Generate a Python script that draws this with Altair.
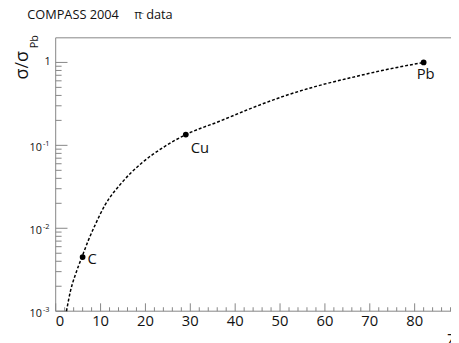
import math
import altair as alt
import pandas as pd

# --- data ---
elements = ["C", "Cu", "Pb"]
elem_z = [6, 29, 82]
elem_ratio = [0.0045, 0.135, 1.0]

curve_z = [2.4, 3.3, 4.4, 5.85, 7.3, 8.8, 11.0, 14.6, 19.0, 24.1, 28.9,
           36.5, 43.8, 51.1, 58.4, 65.7, 73.0, 82.0]
curve_ratio = [0.001, 0.00176, 0.00277, 0.0045, 0.0072, 0.011, 0.0191, 0.0348,
               0.0601, 0.0955, 0.134, 0.195, 0.283, 0.396, 0.521, 0.653, 0.805, 1.0]

x_major = [0, 10, 20, 30, 40, 50, 60, 70, 80]
x_minor = [v for v in range(0, 89, 2) if v % 10 != 0]
y_major = [0.001, 0.01, 0.1, 1.0]
y_major_base = ["10", "10", "10", "1"]
y_major_exp = ["-3", "-2", "-1", ""]
y_minor = [m * d for d in [0.001, 0.01, 0.1] for m in range(2, 10)]

X_DOMAIN = [0, 88.1]
Y_DOMAIN = [0.001, 1.98]
W, H = 402, 278
GRAY = "#858585"
FONT = "Open Sans"

# pixel -> data conversions for the inward tick lengths (styling only)
PX_PER_DECADE = H / math.log10(Y_DOMAIN[1] / Y_DOMAIN[0])
PX_PER_UNIT = W / (X_DOMAIN[1] - X_DOMAIN[0])


def up(px):
    return Y_DOMAIN[0] * 10 ** (px / PX_PER_DECADE)


def right(px):
    return X_DOMAIN[0] + px / PX_PER_UNIT


xscale = alt.Scale(domain=X_DOMAIN, nice=False, zero=False)
yscale = alt.Scale(type="log", domain=Y_DOMAIN, nice=False)
xaxis = alt.Axis(values=x_major, ticks=False, tickSize=0, grid=False, title=None,
                 domainColor=GRAY, labelFontSize=15, labelFont=FONT,
                 labelColor="#111", labelPadding=3, format="d", translate=0)
yaxis = alt.Axis(labels=False, ticks=False, tickSize=0, grid=False, title=None,
                 domainColor=GRAY, translate=0)


def X(f):
    return alt.X(f, type="quantitative", scale=xscale, axis=xaxis)


def Y(f):
    return alt.Y(f, type="quantitative", scale=yscale, axis=yaxis)


curve_df = pd.DataFrame({"z": curve_z, "r": curve_ratio})
pts_df = pd.DataFrame({"z": elem_z, "r": elem_ratio, "name": elements})
ymaj_df = pd.DataFrame({"r": y_major, "exp": y_major_exp, "base": y_major_base})

# tick segments (two end points per tick), drawn as lines through the scales
rows = []
for i, z in enumerate(x_major):
    rows += [{"id": f"xM{i}", "z": z, "r": Y_DOMAIN[0]},
             {"id": f"xM{i}", "z": z, "r": up(8)}]
for i, z in enumerate(x_minor):
    rows += [{"id": f"xm{i}", "z": z, "r": Y_DOMAIN[0]},
             {"id": f"xm{i}", "z": z, "r": up(4)}]
for i, r in enumerate(y_major):
    rows += [{"id": f"yM{i}", "z": X_DOMAIN[0], "r": r},
             {"id": f"yM{i}", "z": right(12), "r": r}]
for i, r in enumerate(y_minor):
    rows += [{"id": f"ym{i}", "z": X_DOMAIN[0], "r": r},
             {"id": f"ym{i}", "z": right(6), "r": r}]
rows += [{"id": "top", "z": X_DOMAIN[0], "r": Y_DOMAIN[1]},
         {"id": "top", "z": X_DOMAIN[1], "r": Y_DOMAIN[1]}]
ticks_df = pd.DataFrame(rows)

ticks = alt.Chart(ticks_df).mark_line(color=GRAY, strokeWidth=1).encode(
    x=X("z"), y=Y("r"), detail="id:N")

curve = alt.Chart(curve_df).mark_line(
    color="black", strokeWidth=1.5, strokeDash=[3, 2], interpolate="monotone"
).encode(x=X("z"), y=Y("r"))

dots = alt.Chart(pts_df).mark_circle(color="black", opacity=1, size=34).encode(
    x=X("z"), y=Y("r"))

lab_c = alt.Chart(pts_df[pts_df.name == "C"]).mark_text(
    align="left", baseline="middle", dx=5, dy=2, fontSize=15, font=FONT, color="#111"
).encode(x=X("z"), y=Y("r"), text="name")
lab_cu = alt.Chart(pts_df[pts_df.name == "Cu"]).mark_text(
    align="left", baseline="middle", dx=5, dy=14, fontSize=15, font=FONT, color="#111"
).encode(x=X("z"), y=Y("r"), text="name")
lab_pb = alt.Chart(pts_df[pts_df.name == "Pb"]).mark_text(
    align="center", baseline="middle", dx=2, dy=12, fontSize=15, font=FONT, color="#111"
).encode(x=X("z"), y=Y("r"), text="name")

ylab_base = alt.Chart(ymaj_df[ymaj_df.exp != ""]).mark_text(
    align="right", baseline="middle", fontSize=11, font=FONT, color="#111", dy=3
).encode(y=Y("r"), x=alt.value(-14), text="base")
ylab_one = alt.Chart(ymaj_df[ymaj_df.exp == ""]).mark_text(
    align="right", baseline="middle", fontSize=11, font=FONT, color="#111", dy=0
).encode(y=Y("r"), x=alt.value(-5), text="base")
ylab_exp = alt.Chart(ymaj_df[ymaj_df.exp != ""]).mark_text(
    align="left", baseline="middle", fontSize=7.5, font=FONT, color="#111", dy=-1
).encode(y=Y("r"), x=alt.value(-13), text="exp")

# annotation texts
ann = pd.DataFrame({"t": ["x"]})


def txt(s, x, y, size, **kw):
    return alt.Chart(ann).mark_text(text=s, fontSize=size, font=FONT, color="#111",
                                    **kw).encode(x=alt.value(x), y=alt.value(y))


title1 = txt("COMPASS 2004", -29, -19, 13, align="left", baseline="alphabetic")
title2 = txt("π", 80, -19, 12, align="left", baseline="alphabetic")
title3 = txt("−", 86, -22, 7, align="left", baseline="alphabetic")
title4 = txt("data", 92, -19, 13, align="left", baseline="alphabetic")
ytitle1 = txt("σ/σ", -33, 28, 18, align="center", baseline="middle", angle=270)
ytitle2 = txt("Pb", -21, 4, 11, align="center", baseline="middle", angle=270)
ztitle = txt("Z", 398, 313, 16, align="left", baseline="alphabetic")

chart = alt.layer(
    ticks, curve, dots, lab_c, lab_cu, lab_pb, ylab_base, ylab_one, ylab_exp,
    title1, title2, title3, title4, ytitle1, ytitle2, ztitle
).properties(
    width=W, height=H,
    background="white",
    autosize=alt.AutoSizeParams(type="none"),
    padding={"left": 48.5, "top": 27.5, "right": 0, "bottom": 29},
).configure_view(stroke=None)

chart.save("out.html", embed_options={"renderer": "svg", "actions": False})
